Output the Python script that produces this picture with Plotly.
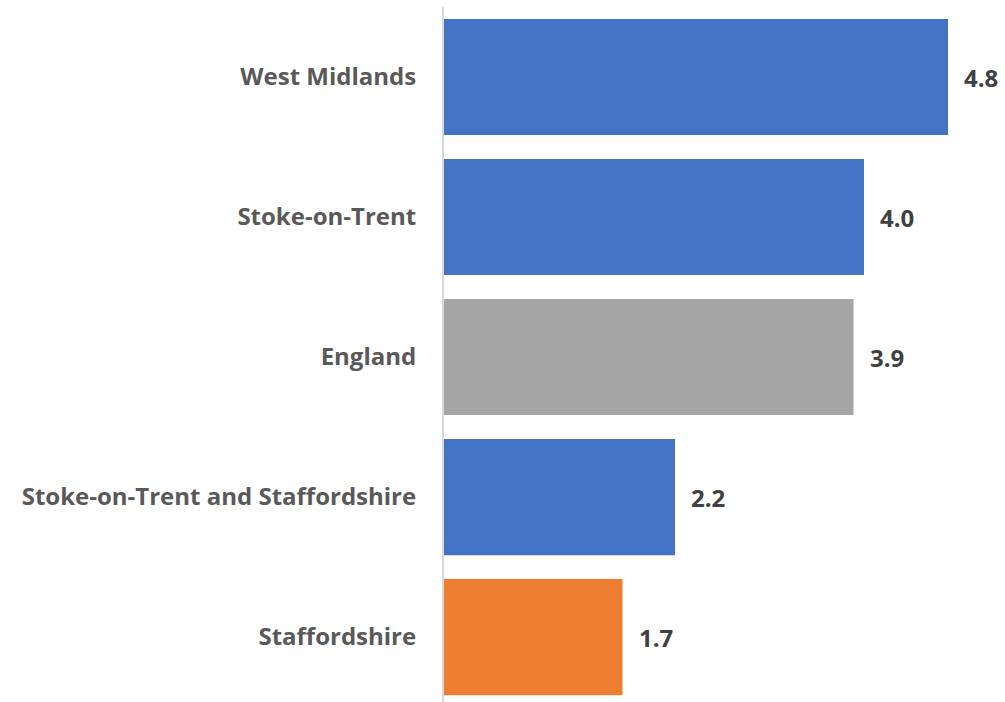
import plotly.graph_objects as go

categories = ["Staffordshire", "Stoke-on-Trent and Staffordshire", "England", "Stoke-on-Trent", "West Midlands"]
values = [1.7, 2.2, 3.9, 4.0, 4.8]
colors = ["#ED7D31", "#4472C4", "#A5A5A5", "#4472C4", "#4472C4"]
labels = ["1.7", "2.2", "3.9", "4.0", "4.8"]

fig = go.Figure(go.Bar(
    y=categories, x=values, orientation="h",
    marker=dict(color=colors, line=dict(width=0)),
    hoverinfo="x+y",
))

for cat, val, lab in zip(categories, values, labels):
    fig.add_annotation(
        x=val, y=cat, text=lab, showarrow=False,
        xanchor="left", yanchor="middle", xshift=14,
        font=dict(family="Open Sans", size=24, color="#404040", weight="bold"),
    )

fig.update_layout(
    width=1005, height=702,
    margin=dict(l=444, r=0, t=7, b=0),
    paper_bgcolor="white", plot_bgcolor="white",
    bargap=0.17, showlegend=False,
    font=dict(family="Open Sans", size=24, color="#595959"),
)
fig.update_xaxes(range=[0, 561 / 105], visible=False)
fig.update_yaxes(
    range=[-0.464, 4.5], showline=True, linecolor="#D9D9D9", linewidth=2,
    ticks="", ticklabelstandoff=21, showgrid=False,
    tickfont=dict(family="Open Sans", size=24, color="#595959", weight="bold"),
)
fig.write_html("out.html", config={"displayModeBar": False},
               post_script="document.body.style.margin='0';")
